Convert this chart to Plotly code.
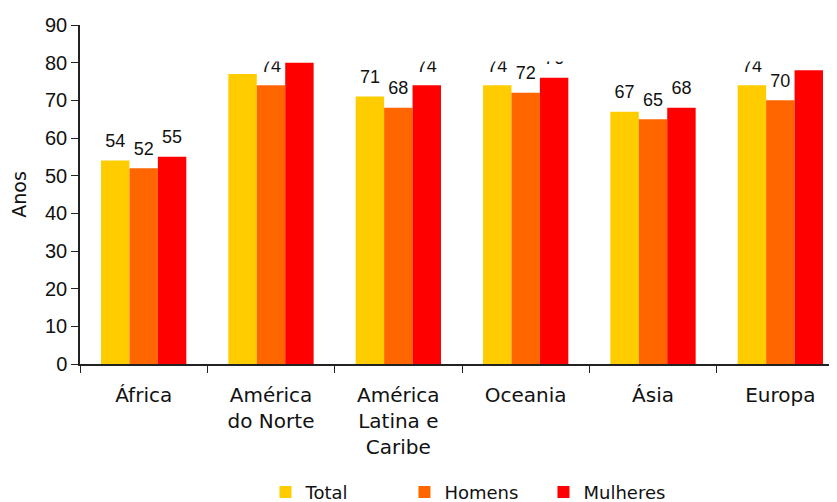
import plotly.graph_objects as go

categories = ["África", "América<br>do Norte", "América<br>Latina e<br>Caribe", "Oceania", "Ásia", "Europa"]
total = [54, 77, 71, 74, 67, 74]
homens = [52, 74, 68, 72, 65, 70]
mulheres = [55, 80, 74, 76, 68, 78]
series_names = ["Total", "Homens", "Mulheres"]
series_values = [total, homens, mulheres]
colors = ["#FFCC00", "#FF6600", "#FF0000"]
y_ticks = [0, 10, 20, 30, 40, 50, 60, 70, 80, 90]

fig = go.Figure()
for name, vals, col in zip(series_names, series_values, colors):
    fig.add_trace(go.Bar(
        x=categories, y=vals, name=name, marker=dict(color=col, line=dict(width=0)),
        offsetgroup=name,
    ))
for name, vals, col in zip(series_names, series_values, colors):
    fig.add_trace(go.Scatter(
        x=categories, y=vals, mode="markers+text", text=[str(v) for v in vals],
        textposition="top center", offsetgroup=name,
        marker=dict(size=13, opacity=0, color=col),
        textfont=dict(family="Liberation Sans, Arial, sans-serif", size=18, color="#111111"),
        showlegend=False, hoverinfo="skip", cliponaxis=True,
    ))

fig.update_layout(
    width=829, height=494,
    margin=dict(l=72, r=0, t=17, b=138, autoexpand=False),
    paper_bgcolor="white", plot_bgcolor="white",
    barmode="group", bargap=0.33, bargroupgap=0,
    scattermode="group", scattergap=0.33,
    showlegend=True,
    legend=dict(
        orientation="h", x=0.245, xanchor="left", y=-0.324, yanchor="top",
        font=dict(family="DejaVu Sans, sans-serif", size=18, color="#111111"),
        entrywidth=94, entrywidthmode="pixels", traceorder="normal",
        itemclick=False, itemdoubleclick=False,
    ),
    xaxis=dict(
        type="category", range=[-0.5, 5.445], showline=True, linecolor="#222222", linewidth=1.5,
        ticks="outside", ticklen=7, tickcolor="#222222", tickson="boundaries",
        tickfont=dict(family="DejaVu Sans, sans-serif", size=20, color="#111111"),
        ticklabelstandoff=12, showgrid=False, zeroline=False, automargin=False,
    ),
    yaxis=dict(
        range=[0, 90], tickvals=y_ticks, showline=True, linecolor="#222222", linewidth=1.5,
        ticks="outside", ticklen=7, tickcolor="#222222", showgrid=False, zeroline=False,
        tickfont=dict(family="Liberation Sans, Arial, sans-serif", size=20, color="#111111"),
        title=dict(text="Anos", font=dict(family="DejaVu Sans, sans-serif", size=19, color="#111111")),
        automargin=False,
    ),
    shapes=[dict(
        type="rect", xref="paper", yref="y", x0=0.004, x1=1, y0=80.3, y1=90,
        fillcolor="white", line=dict(width=0), layer="above",
    )],
)

fig.write_html("out.html")
